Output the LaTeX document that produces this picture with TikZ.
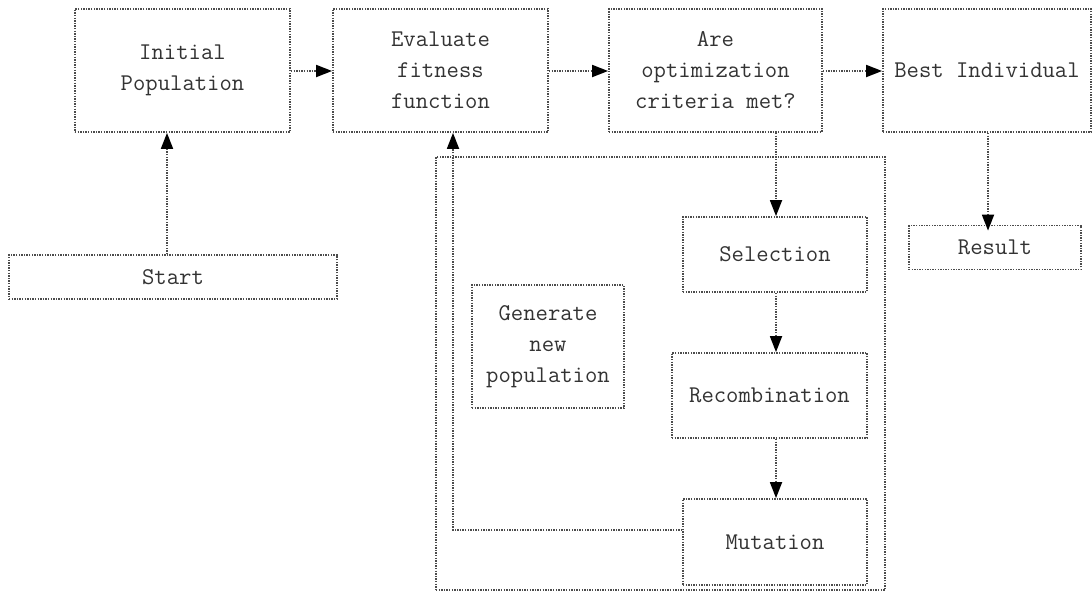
\documentclass[tikz,border=0pt]{standalone}
\usetikzlibrary{arrows.meta}
\begin{document}
\begin{tikzpicture}[x=1pt,y=-1pt,
  box/.style={draw=black!70, line width=1.8pt, dash pattern=on 1.4pt off 1.2pt,
    rectangle, inner sep=0pt, align=center, text=black!80,
    font=\ttfamily\fontsize{24}{31}\selectfont},
  arr/.style={draw=black!70, line width=1.8pt, dash pattern=on 1.4pt off 1.2pt,
    -{Triangle[length=16pt,width=12pt,color=black]}},
  ln/.style={draw=black!70, line width=1.8pt, dash pattern=on 1.4pt off 1.2pt}]
\useasboundingbox (0,0) rectangle (1092,592);
% top row
\node[box, minimum width=215, minimum height=123] (init) at (182.5,70.5) {Initial\\Population};
\node[box, minimum width=215, minimum height=123] (eval) at (440.5,70.5) {Evaluate\\fitness\\function};
\node[box, minimum width=213, minimum height=123] (crit) at (715.5,70.5) {Are\\optimization\\criteria met?};
\node[box, minimum width=208, minimum height=123] (best) at (987,70.5) {Best Individual};
% others
\node[box, minimum width=328, minimum height=44] (start) at (173,277) {Start};
\node[box, minimum width=172, minimum height=44] (result) at (995,247.5) {Result};
\node[box, minimum width=449, minimum height=433] (loop) at (660.5,373.5) {};
\node[box, minimum width=152, minimum height=123] (gen) at (548,346.5) {Generate\\new\\population};
\node[box, minimum width=184, minimum height=75] (sel) at (775,254.5) {Selection};
\node[box, minimum width=195, minimum height=85] (rec) at (769.5,395.5) {Recombination};
\node[box, minimum width=184, minimum height=86] (mut) at (775,542) {Mutation};
% helper coordinates
\coordinate (c1) at (167,0);
\coordinate (c2) at (0,71);
\coordinate (c3) at (776,0);
\coordinate (c4) at (988,0);
\coordinate (fb) at (453,530);
% connectors
\draw[arr] (start.north -| c1) -- (init.south -| c1);
\draw[arr] (init.east |- c2) -- (eval.west |- c2);
\draw[arr] (eval.east |- c2) -- (crit.west |- c2);
\draw[arr] (crit.east |- c2) -- (best.west |- c2);
\draw[arr] (crit.south -| c3) -- (sel.north -| c3);
\draw[arr] (best.south -| c4) -- ([yshift=-6pt]result.north -| c4);
\draw[arr] (sel.south -| c3) -- (rec.north -| c3);
\draw[arr] (rec.south -| c3) -- (mut.north -| c3);
\draw[arr] (mut.west |- fb) -- (fb) -- (eval.south -| fb);
\end{tikzpicture}
\end{document}
